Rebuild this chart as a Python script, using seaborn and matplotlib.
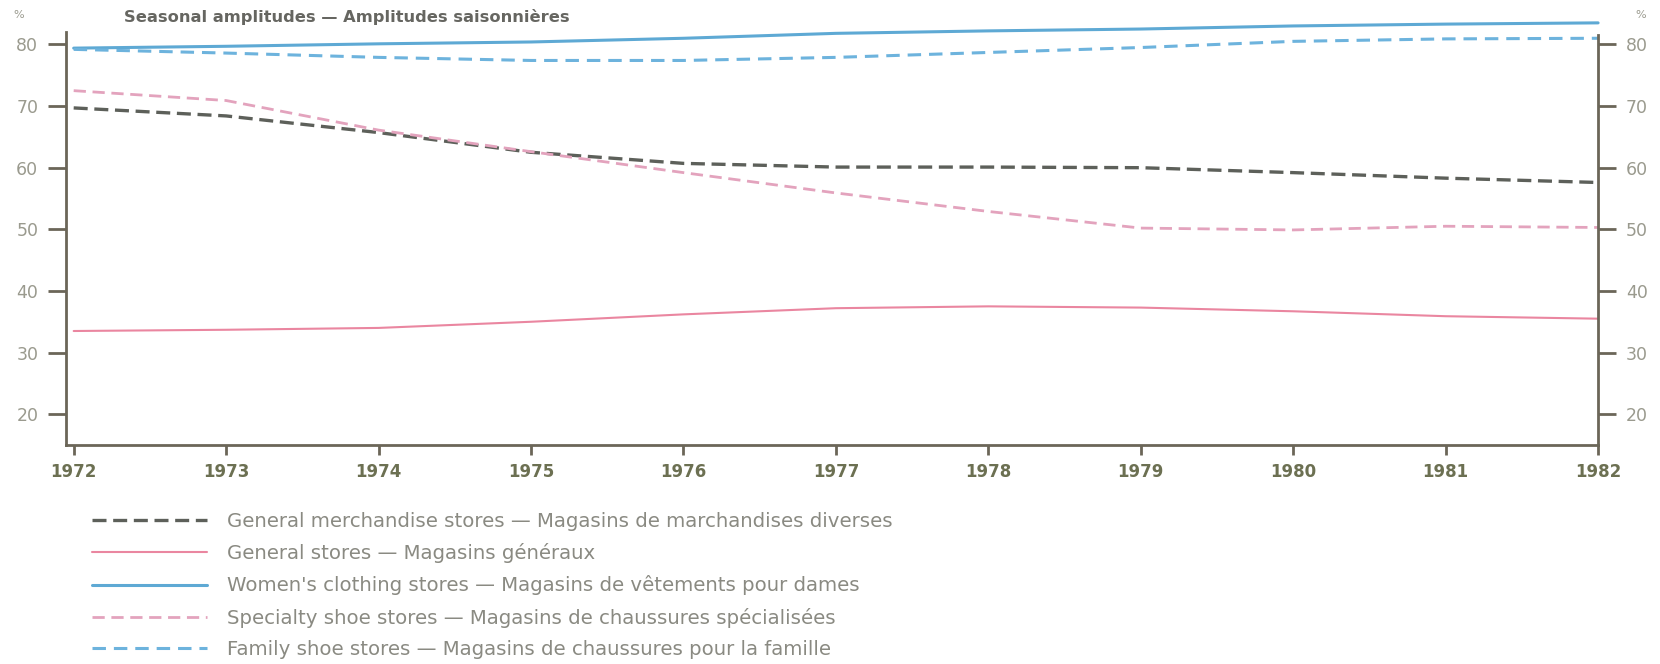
import seaborn as sns
import pandas as pd
import matplotlib.pyplot as plt

# values (percent)
years = list(range(1972, 1983))
general_merchandise = [69.7, 68.4, 65.7, 62.5, 60.7, 60.1, 60.1, 60.0, 59.2, 58.3, 57.6]
general_stores = [33.5, 33.7, 34.0, 35.0, 36.2, 37.2, 37.5, 37.3, 36.7, 35.9, 35.5]
womens_clothing = [79.4, 79.7, 80.1, 80.4, 81.0, 81.8, 82.2, 82.5, 83.0, 83.3, 83.5]
specialty_shoe = [72.5, 70.9, 66.1, 62.6, 59.2, 55.9, 52.9, 50.2, 49.9, 50.5, 50.3]
family_shoe = [79.2, 78.6, 77.9, 77.4, 77.4, 77.9, 78.7, 79.5, 80.5, 80.9, 81.0]

series_labels = [
    'General merchandise stores — Magasins de marchandises diverses',
    'General stores — Magasins généraux',
    "Women's clothing stores — Magasins de vêtements pour dames",
    'Specialty shoe stores — Magasins de chaussures spécialisées',
    'Family shoe stores — Magasins de chaussures pour la famille',
]
y_ticks = [20, 30, 40, 50, 60, 70, 80]
title = 'Seasonal amplitudes — Amplitudes saisonnières'

sns.set_style('ticks')
plt.rcParams['font.family'] = ['DejaVu Sans']

df = pd.DataFrame({'year': years})
series = [
    (general_merchandise, '#5d605a', 2.4, (0, (4.2, 2.0))),
    (general_stores, '#ea86a0', 1.5, '-'),
    (womens_clothing, '#5ea9d4', 2.2, '-'),
    (specialty_shoe, '#e3a3bd', 2.0, (0, (4.4, 2.4))),
    (family_shoe, '#6db3dd', 2.2, (0, (4.4, 2.6))),
]

fig = plt.figure(figsize=(16.6, 6.64), dpi=100)
ax = fig.add_axes([0.0398, 0.3298, 0.9229, 0.6404])

for (vals, col, lw, ls), lab in zip(series, series_labels):
    df['v'] = vals
    sns.lineplot(data=df, x='year', y='v', ax=ax, color=col, lw=lw,
                 linestyle=ls, label=lab, clip_on=False)

ax.set_xlim(1971.95, 1982)
ax.set_ylim(15, 84)
ax.set_xlabel('')
ax.set_ylabel('')

spine_col = '#6b6658'
ax.spines['top'].set_visible(False)
for s in ['left', 'right', 'bottom']:
    ax.spines[s].set_color(spine_col)
    ax.spines[s].set_linewidth(2)
ax.spines['left'].set_bounds(15, 82)
ax.spines['right'].set_bounds(15, 81.5)

ax.set_yticks(y_ticks)
ax.set_yticklabels([str(t) for t in y_ticks])
ax.tick_params(axis='y', left=True, right=True, labelleft=True, labelright=True,
               length=13, width=2, color=spine_col, pad=7,
               labelsize=12.5, labelcolor='#9a9a8e')
ax.set_xticks(years)
ax.set_xticklabels([str(y) for y in years], fontweight='bold')
ax.tick_params(axis='x', length=7, width=2, color=spine_col, pad=6,
               labelsize=12, labelcolor='#6c7052')

fig.text(124 / 1660, 1 - 17 / 664, title, fontsize=11.7, fontweight='bold',
         color='#666661', ha='left', va='center')
fig.text(19 / 1660, 1 - 15 / 664, '%', fontsize=8, color='#9a9a8e', ha='center', va='center')
fig.text(1641 / 1660, 1 - 15 / 664, '%', fontsize=8, color='#9a9a8e', ha='center', va='center')

handles, labs = ax.get_legend_handles_labels()
ax.legend(handles, labs, loc='upper left', bbox_to_anchor=(92 / 1660, 1 - 512 / 664),
          bbox_transform=fig.transFigure, frameon=False, fontsize=14.2,
          handlelength=5.85, handletextpad=1.0, labelspacing=0.62,
          borderpad=0, borderaxespad=0, labelcolor='#8a8a82')

fig.savefig('out.png', dpi=100, facecolor='white')
